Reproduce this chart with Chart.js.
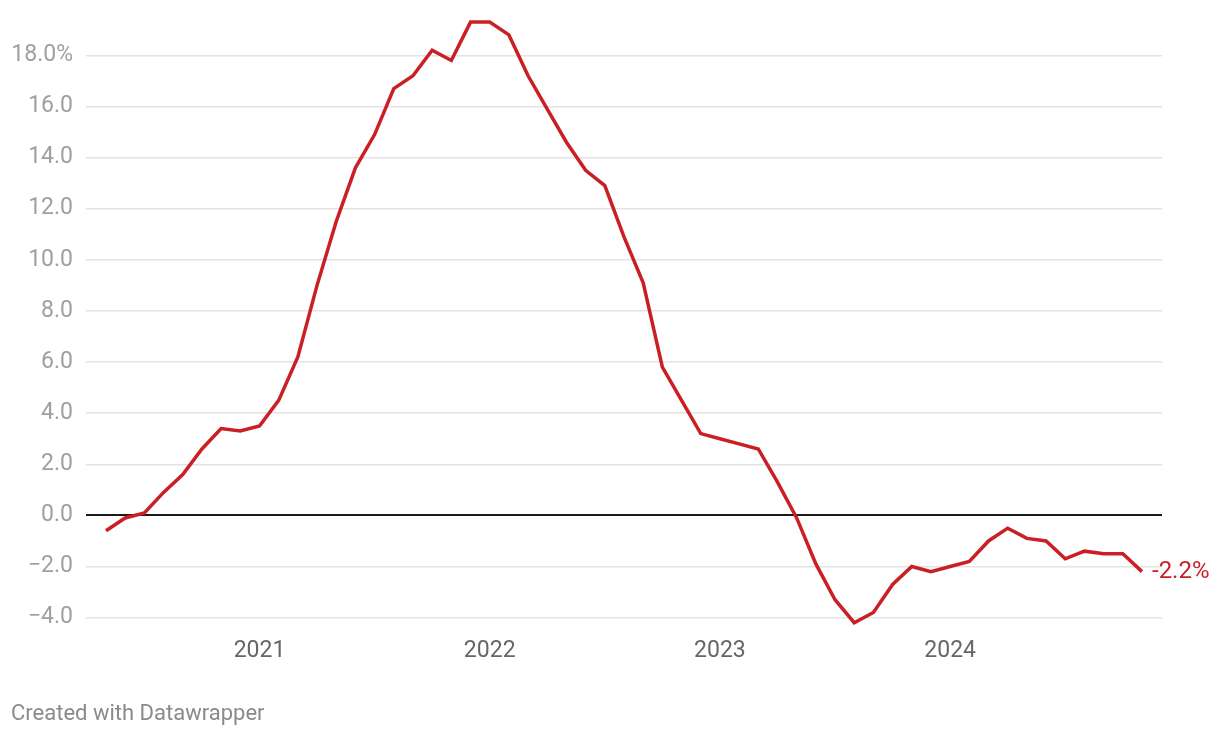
<!DOCTYPE html>
<html>
<head>
<meta charset="utf-8">
<script src="https://cdn.jsdelivr.net/npm/chart.js@4/dist/chart.umd.min.js"></script>
<style>
  html, body { margin: 0; padding: 0; background: #ffffff; }
  #wrap { position: relative; width: 1220px; height: 738px; }
  #credit { position: absolute; left: 11px; top: 700px; font-family: Roboto, sans-serif; font-size: 22px; color: #8a8a8a; }
</style>
</head>
<body>
<div id="wrap">
  <canvas id="c" width="1220" height="738"></canvas>
  <div id="credit">Created with Datawrapper</div>
</div>
<script>
// Months (May 2020 – Nov 2024)
const months = [
  "2020-05","2020-06","2020-07","2020-08","2020-09","2020-10","2020-11","2020-12",
  "2021-01","2021-02","2021-03","2021-04","2021-05","2021-06","2021-07","2021-08","2021-09","2021-10","2021-11","2021-12",
  "2022-01","2022-02","2022-03","2022-04","2022-05","2022-06","2022-07","2022-08","2022-09","2022-10","2022-11","2022-12",
  "2023-01","2023-02","2023-03","2023-04","2023-05","2023-06","2023-07","2023-08","2023-09","2023-10","2023-11","2023-12",
  "2024-01","2024-02","2024-03","2024-04","2024-05","2024-06","2024-07","2024-08","2024-09","2024-10","2024-11"
];
// Year-over-year change, %
const values = [
  -0.6, -0.1, 0.1, 0.9, 1.6, 2.6, 3.4, 3.3,
  3.5, 4.5, 6.2, 9.0, 11.5, 13.6, 14.9, 16.7, 17.2, 18.2, 17.8, 19.3,
  19.3, 18.8, 17.2, 15.9, 14.6, 13.5, 12.9, 10.9, 9.1, 5.8, 4.5, 3.2,
  3.0, 2.8, 2.6, 1.3, -0.1, -1.9, -3.3, -4.2, -3.8, -2.7, -2.0, -2.2,
  -2.0, -1.8, -1.0, -0.5, -0.9, -1.0, -1.7, -1.4, -1.5, -1.5, -2.2
];
const yTicks = [-4, -2, 0, 2, 4, 6, 8, 10, 12, 14, 16, 18];
const xTickLabels = ["2021", "2022", "2023", "2024"];
const xTickMonths = ["2021-01", "2022-01", "2023-01", "2024-01"];
const endLabel = "-2.2%";

const RED = "#c91f25";
const points = values.map((v, i) => ({ x: i, y: v }));
const xTickIdx = xTickMonths.map(m => months.indexOf(m));

const endLabelPlugin = {
  id: 'endLabel',
  afterDatasetsDraw(chart) {
    const meta = chart.getDatasetMeta(0);
    const last = meta.data[meta.data.length - 1];
    const ctx = chart.ctx;
    ctx.save();
    ctx.font = '24px Roboto, sans-serif';
    ctx.fillStyle = RED;
    ctx.textAlign = 'left';
    ctx.textBaseline = 'middle';
    ctx.fillText(endLabel, last.x + 10, last.y);
    ctx.restore();
  }
};

new Chart(document.getElementById('c'), {
  type: 'line',
  data: {
    datasets: [{
      data: points,
      borderColor: RED,
      borderWidth: 3.5,
      pointRadius: 0,
      pointHoverRadius: 0,
      tension: 0,
      fill: false,
      clip: false
    }]
  },
  options: {
    responsive: false,
    animation: false,
    events: [],
    layout: { padding: { left: 0, right: 58, top: 17, bottom: 66 } },
    plugins: { legend: { display: false }, tooltip: { enabled: false } },
    scales: {
      x: {
        type: 'linear',
        min: -1.0425,
        max: 55.0425,
        afterBuildTicks(scale) { scale.ticks = xTickIdx.map(v => ({ value: v })); },
        afterFit(scale) { scale.paddingLeft = 0; scale.paddingRight = 0; },
        ticks: {
          autoSkip: false,
          maxRotation: 0,
          padding: 7,
          color: '#666666',
          font: { family: 'Roboto, sans-serif', size: 23 },
          callback(value) { const k = xTickIdx.indexOf(value); return k >= 0 ? xTickLabels[k] : ''; }
        },
        grid: { display: false, drawTicks: false },
        border: { display: false }
      },
      y: {
        type: 'linear',
        min: -4.5,
        max: 19.5,
        afterBuildTicks(scale) { scale.ticks = yTicks.map(v => ({ value: v })); },
        afterFit(scale) { scale.width = 86; scale.paddingTop = 0; scale.paddingBottom = 0; },
        ticks: {
          padding: 13,
          color: '#a0a0a0',
          font: { family: 'Roboto, sans-serif', size: 23 },
          callback(value) {
            const s = Math.abs(value).toFixed(1);
            const t = value < 0 ? '\u2212' + s : s;
            return value === 18 ? t + '%' : t;
          }
        },
        grid: {
          drawTicks: false,
          color: ctx => (ctx.tick && ctx.tick.value === 0) ? '#1a1a1a' : '#e3e3e3',
          lineWidth: ctx => (ctx.tick && ctx.tick.value === 0) ? 2 : 1.5
        },
        border: { display: false }
      }
    }
  },
  plugins: [endLabelPlugin]
});
</script>
</body>
</html>
